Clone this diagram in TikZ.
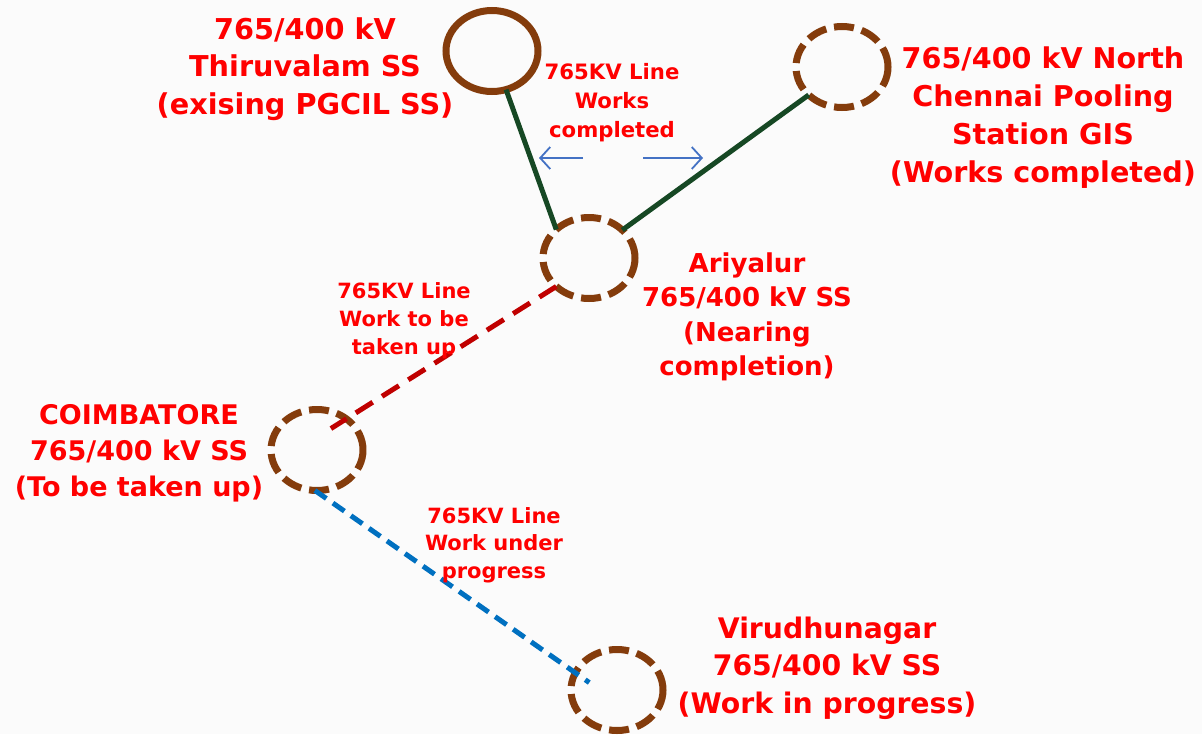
\documentclass[tikz,border=0pt]{standalone}
\usepackage{fontspec}
\newfontfamily\labfont{DejaVu Sans}
\usetikzlibrary{shapes.geometric,arrows.meta,calc}
\definecolor{bgc}{RGB}{251,251,251}
\definecolor{ssbrown}{RGB}{132,60,12}
\definecolor{lgreen}{RGB}{22,72,36}
\definecolor{lred}{RGB}{192,0,0}
\definecolor{lblue}{RGB}{0,112,192}
\definecolor{arrblue}{RGB}{68,114,196}
\definecolor{txtred}{RGB}{255,0,0}
\tikzset{
  ss/.style={shape=ellipse, draw=ssbrown, line width=7pt, minimum width=92pt, minimum height=81pt, inner sep=0pt, outer sep=0pt},
  ssdash/.style={ss, dash pattern=on 20pt off 8pt},
  lab/.style={text=txtred, align=center, inner sep=0pt, font=\labfont\bfseries},
  greenline/.style={draw=lgreen, line width=5pt},
  redline/.style={draw=lred, line width=5pt, dash pattern=on 20pt off 11pt},
  blueline/.style={draw=lblue, line width=5pt, dash pattern=on 14pt off 8pt},
  thinarrow/.style={draw=arrblue, line width=1.8pt, -{Straight Barb[length=10pt,width=22pt]}}
}
\begin{document}
\begin{tikzpicture}[x=1pt,y=-1pt]
\fill[bgc] (0,0) rectangle (1202,734);
\useasboundingbox (0,0) rectangle (1202,734);

% substations
\node[ss] (thi) at (492,51) {};
\node[ssdash] (nc) at (842,67) {};
\node[ssdash] (ari) at (589,258) {};
\node[ssdash] (coi) at (317,450) {};
\node[ssdash] (vir) at (617,690) {};

% lines
\draw[greenline] (thi.-70) -- (ari.139);
\draw[greenline] (ari.40) -- (nc.220);
\draw[redline] (ari.221) -- ($(coi.center)!0.61!(coi.57)$);
\draw[blueline] (coi.-93) -- ($(vir.center)!0.63!(vir.165)$);

% arrows
\coordinate (a1s) at (583,158);
\coordinate (a1e) at (539,158);
\coordinate (a2s) at (643,158);
\coordinate (a2e) at (703,158);
\draw[thinarrow] (a1s) -- (a1e);
\draw[thinarrow] (a2s) -- (a2e);

% labels
\node[lab, font=\labfont\bfseries\fontsize{28.7}{37.5}\selectfont] (thiL) at (305,69)
  {765/400 kV\\Thiruvalam SS\\(exising PGCIL SS)};
\node[lab, font=\labfont\bfseries\fontsize{28.6}{38}\selectfont] (ncL) at (1043,118)
  {765/400 kV North\\Chennai Pooling\\Station GIS\\(Works completed)};
\node[lab, font=\labfont\bfseries\fontsize{26}{34.5}\selectfont] (ariL) at (747,317)
  {Ariyalur\\765/400 kV SS\\(Nearing\\completion)};
\node[lab, font=\labfont\bfseries\fontsize{27}{36}\selectfont] (coiL) at (139,453)
  {COIMBATORE\\765/400 kV SS\\(To be taken up)};
\node[lab, font=\labfont\bfseries\fontsize{28.3}{37.5}\selectfont] (virL) at (827,668)
  {Virudhunagar\\765/400 kV SS\\(Work in progress)};

\node[lab, font=\labfont\bfseries\fontsize{21.2}{29}\selectfont] (l1) at (612,103)
  {765KV Line\\Works\\completed};
\node[lab, font=\labfont\bfseries\fontsize{21}{28}\selectfont] (l2) at (404,321)
  {765KV Line\\Work to be\\taken up};
\node[lab, font=\labfont\bfseries\fontsize{21}{27.5}\selectfont] (l3) at (494,545)
  {765KV Line\\Work under\\progress};
\end{tikzpicture}
\end{document}
